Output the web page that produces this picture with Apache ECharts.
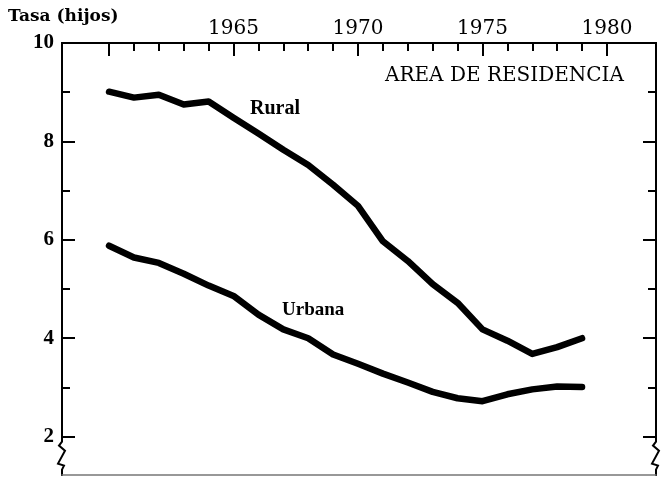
<!DOCTYPE html>
<html>
<head>
<meta charset="utf-8">
<script src="https://cdn.jsdelivr.net/npm/echarts@6/dist/echarts.min.js"></script>
<style>
  html, body { margin: 0; padding: 0; background: #fff; }
  #chart { width: 664px; height: 477px; }
</style>
</head>
<body>
<div id="chart"></div>
<script>
// datos (tasa global de fecundidad por area)
const years = [1960, 1961, 1962, 1963, 1964, 1965, 1966, 1967, 1968, 1969,
               1970, 1971, 1972, 1973, 1974, 1975, 1976, 1977, 1978, 1979];
const rural = [9.01, 8.89, 8.95, 8.75, 8.81, 8.48, 8.16, 7.83, 7.52, 7.12,
               6.69, 5.97, 5.57, 5.10, 4.72, 4.18, 3.95, 3.68, 3.82, 4.00];
const urbana = [5.88, 5.64, 5.53, 5.31, 5.07, 4.86, 4.48, 4.18, 4.00, 3.67,
                3.48, 3.28, 3.10, 2.91, 2.78, 2.72, 2.86, 2.96, 3.02, 3.01];

const xLabels = [1965, 1970, 1975, 1980];
const xMajorTicks = [1960, 1965, 1970, 1975, 1980];
const xMinorTicks = [1961, 1962, 1963, 1964, 1966, 1967, 1968, 1969, 1971, 1972,
                     1973, 1974, 1976, 1977, 1978, 1979];
const yLabels = [2, 4, 6, 8, 10];
const yMinorTicks = [3, 5, 7, 9];

const X_MIN = 1958.11, X_MAX = 1981.97;
const Y_MIN = 1.22, Y_MAX = 10;
const serif = '"Liberation Serif", "DejaVu Serif", serif';
const wideSerif = '"DejaVu Serif", "Liberation Serif", serif';

function toPairs(xs, ys) {
  return xs.map((x, i) => [x, ys[i]]);
}

function xAxisCfg(pos, ticks, len, labels, showLine) {
  return {
    type: 'value', position: pos, min: X_MIN, max: X_MAX,
    axisLine: { show: showLine, onZero: false, lineStyle: { color: '#000', width: 2 } },
    axisTick: { show: ticks.length > 0, inside: true, length: len, customValues: ticks,
                lineStyle: { color: '#000', width: 2 } },
    axisLabel: labels ? { show: true, customValues: labels, margin: 4, color: '#000',
                          fontFamily: wideSerif, fontSize: 20,
                          formatter: (v) => String(v) } : { show: false },
    splitLine: { show: false }
  };
}

function yAxisCfg(pos, ticks, len, labels) {
  return {
    type: 'value', position: pos, min: Y_MIN, max: Y_MAX,
    axisLine: { show: true, onZero: false, lineStyle: { color: '#000', width: 2 } },
    axisTick: { show: true, inside: true, length: len, customValues: ticks,
                lineStyle: { color: '#000', width: 2 } },
    axisLabel: labels ? { show: true, customValues: labels, margin: 8, color: '#000',
                          fontFamily: serif, fontSize: 21, fontWeight: 'bold' } : { show: false },
    splitLine: { show: false }
  };
}

const lineStyle = { color: '#000', width: 6.5, cap: 'round', join: 'round' };

const option = {
  backgroundColor: '#fff',
  animation: false,
  grid: { left: 62, right: 8, top: 43, bottom: 2, containLabel: false },
  xAxis: [
    xAxisCfg('top', xMajorTicks, 13, xLabels, true),
    xAxisCfg('top', xMinorTicks, 8, null, false),
    Object.assign(xAxisCfg('bottom', [], 0, null, true),
      { axisLine: { show: true, onZero: false, lineStyle: { color: '#777', width: 1.5 } } })
  ],
  yAxis: [
    yAxisCfg('left', yLabels, 13, yLabels),
    yAxisCfg('left', yMinorTicks, 8, null),
    yAxisCfg('right', yLabels, 13, null),
    yAxisCfg('right', yMinorTicks, 8, null)
  ],
  series: [
    { name: 'Rural', type: 'line', data: toPairs(years, rural), showSymbol: false,
      symbol: 'none', lineStyle: lineStyle, z: 5 },
    { name: 'Urbana', type: 'line', data: toPairs(years, urbana), showSymbol: false,
      symbol: 'none', lineStyle: lineStyle, z: 5 }
  ],
  graphic: [
    { type: 'text', left: 8, top: 8,
      style: { text: 'Tasa (hijos)', fill: '#000', font: 'bold 17px ' + wideSerif } },
    { type: 'text', left: 385, top: 66,
      style: { text: 'AREA DE RESIDENCIA', fill: '#000', font: '20px ' + wideSerif } },
    { type: 'text', left: 250, top: 99,
      style: { text: 'Rural', fill: '#000', font: 'bold 20px ' + serif } },
    { type: 'text', left: 282, top: 301,
      style: { text: 'Urbana', fill: '#000', font: 'bold 19px ' + serif } }
  ]
};

const chart = echarts.init(document.getElementById('chart'));
chart.setOption(option);

// cortes en zigzag de los ejes verticales, debajo del 2
function zigzag(xVal) {
  const p = chart.convertToPixel({ gridIndex: 0 }, [xVal, 2]);
  const x = p[0], y = p[1];
  return [
    { type: 'rect', shape: { x: x - 2, y: y + 5, width: 4, height: 28 },
      style: { fill: '#fff' }, z: 50 },
    { type: 'polyline', z: 51,
      shape: { points: [[x, y + 4], [x, y + 5], [x - 3, y + 9], [x + 3, y + 14],
                        [x - 4, y + 27], [x + 2, y + 29], [x, y + 33], [x, y + 34]] },
      style: { stroke: '#000', lineWidth: 2, fill: null } }
  ];
}
chart.setOption({ graphic: option.graphic.concat(zigzag(X_MIN), zigzag(X_MAX)) });
</script>
</body>
</html>
